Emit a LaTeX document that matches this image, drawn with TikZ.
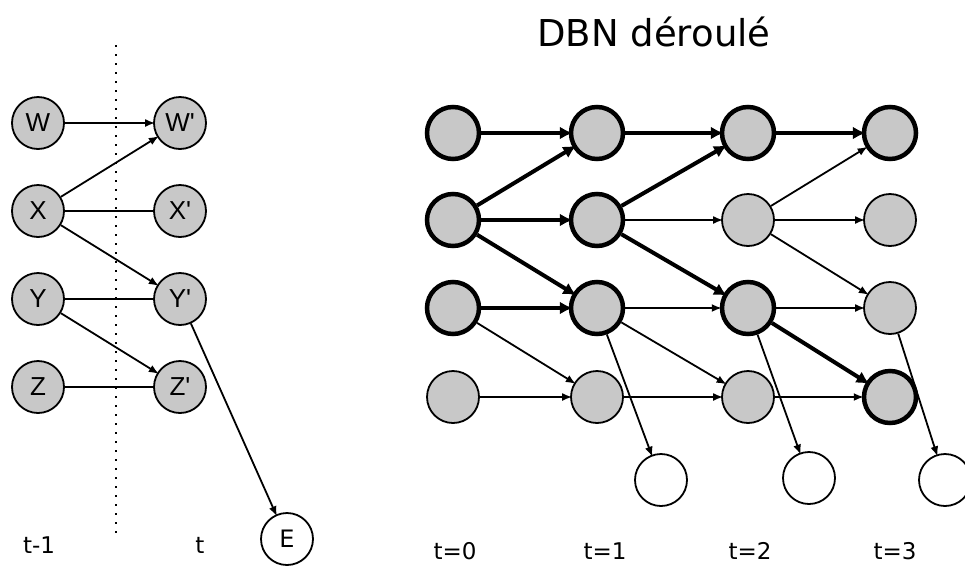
\documentclass[tikz,border=0pt]{standalone}
\usepackage{fontspec}
\setmainfont{DejaVu Sans}
\newfontfamily\lettersf{Liberation Sans}
\usetikzlibrary{arrows.meta}
\definecolor{nodegray}{RGB}{200,200,200}

\tikzset{
    var/.style={circle, draw, fill=nodegray, minimum size=52pt, inner sep=0pt,
        line width=1.8pt, font=\lettersf\fontsize{26}{30}\selectfont},
    hotvar/.style={var, line width=4.5pt},
    obs/.style={circle, draw, fill=white, minimum size=52pt, inner sep=0pt,
        line width=1.8pt, font=\fontsize{24}{28}\selectfont},
    link/.style={line width=1.8pt},
    arr/.style={line width=1.8pt, -{Latex[length=10pt,width=8pt]}, shorten >=-2pt},
    hotarr/.style={line width=4pt, -{Latex[length=13pt,width=13pt]}, shorten >=-4pt},
    lbl/.style={font=\fontsize{23}{27}\selectfont}
}

\begin{document}
\begin{tikzpicture}[x=1pt, y=-1pt]
        \useasboundingbox (0,0) rectangle (965,568);

        % Two-slice model
        \node [var] (w) at (38,123) {W};
        \node [var] (x) at (38,211) {X};
        \node [var] (y) at (38,299) {Y};
        \node [var] (z) at (38,387) {Z};
        \node [var] (wp) at (180,123) {W\textquotesingle};
        \node [var] (xp) at (180,211) {X\textquotesingle};
        \node [var] (yp) at (180,299) {Y\textquotesingle};
        \node [var] (zp) at (180,387) {Z\textquotesingle};
        \node [obs] (e) at (287,539) {E};

        \coordinate (cuttop) at (116,45);
        \coordinate (cutbot) at (116,537);
        \draw [line width=2pt, dash pattern=on 2pt off 7pt] (cuttop) -- (cutbot);

        \draw [arr] (w) -- (wp);
        \draw [arr] (x) -- (wp);
        \draw [link] (x) -- (xp);
        \draw [arr] (x) -- (yp);
        \draw [link] (y) -- (yp);
        \draw [arr] (y) -- (zp);
        \draw [link] (z) -- (zp);
        \draw [arr] (yp) -- (e);

        \node [lbl] (tprev) at (39,545) {t-1};
        \node [lbl] (tcur) at (200,545) {t};

        % Unrolled network
        \node [font=\fontsize{37}{42}\selectfont] (title) at (654,32) {DBN déroulé};

        \node [hotvar] (a0) at (453,133) {};
        \node [hotvar] (b0) at (453,220) {};
        \node [hotvar] (c0) at (453,308) {};
        \node [var] (d0) at (453,397) {};

        \node [hotvar] (a1) at (597,133) {};
        \node [hotvar] (b1) at (597,220) {};
        \node [hotvar] (c1) at (597,308) {};
        \node [var] (d1) at (597,397) {};
        \node [obs] (e1) at (661,480) {};

        \node [hotvar] (a2) at (748,133) {};
        \node [var] (b2) at (748,220) {};
        \node [hotvar] (c2) at (748,308) {};
        \node [var] (d2) at (748,397) {};
        \node [obs] (e2) at (809,478) {};

        \node [hotvar] (a3) at (890,133) {};
        \node [var] (b3) at (890,220) {};
        \node [var] (c3) at (890,308) {};
        \node [hotvar] (d3) at (890,397) {};
        \node [obs] (e3) at (945,480) {};

        % t=0 -> t=1
        \draw [hotarr] (a0) -- (a1);
        \draw [hotarr] (b0) -- (a1);
        \draw [hotarr] (b0) -- (b1);
        \draw [hotarr] (b0) -- (c1);
        \draw [hotarr] (c0) -- (c1);
        \draw [arr] (c0) -- (d1);
        \draw [arr] (d0) -- (d1);

        % t=1 -> t=2
        \draw [hotarr] (a1) -- (a2);
        \draw [hotarr] (b1) -- (a2);
        \draw [arr] (b1) -- (b2);
        \draw [hotarr] (b1) -- (c2);
        \draw [arr] (c1) -- (c2);
        \draw [arr] (c1) -- (d2);
        \draw [arr] (d1) -- (d2);
        \draw [arr] (c1) -- (e1);

        % t=2 -> t=3
        \draw [hotarr] (a2) -- (a3);
        \draw [arr] (b2) -- (a3);
        \draw [arr] (b2) -- (b3);
        \draw [arr] (b2) -- (c3);
        \draw [arr] (c2) -- (c3);
        \draw [hotarr] (c2) -- (d3);
        \draw [arr] (d2) -- (d3);
        \draw [arr] (c2) -- (e2);
        \draw [arr] (c3) -- (e3);

        \node [lbl] (t0) at (455,551) {t=0};
        \node [lbl] (t1) at (605,551) {t=1};
        \node [lbl] (t2) at (750,551) {t=2};
        \node [lbl] (t3) at (895,551) {t=3};
    \end{tikzpicture}
\end{document}
